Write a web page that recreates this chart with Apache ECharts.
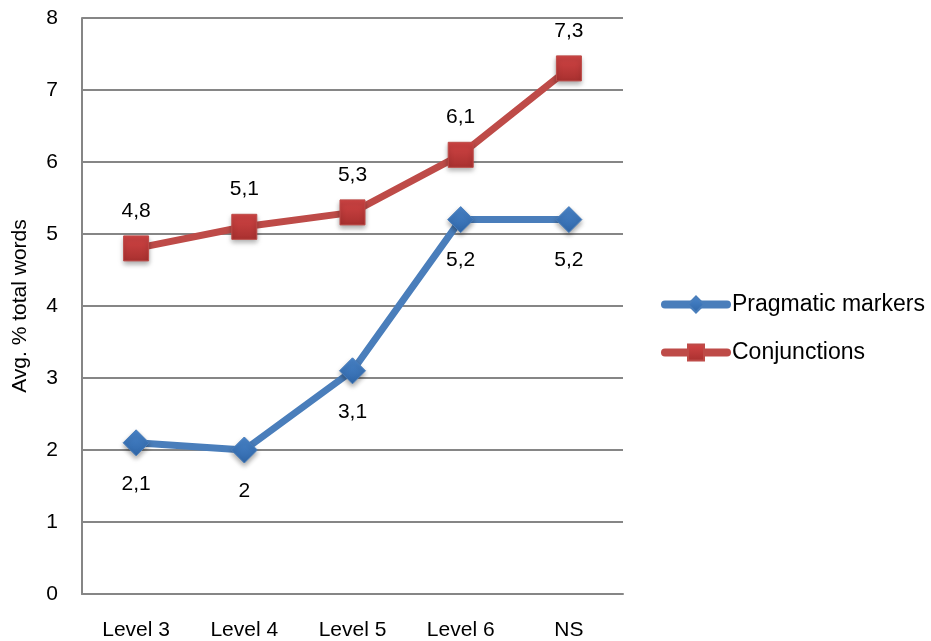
<!DOCTYPE html>
<html><head><meta charset="utf-8">
<script src="https://cdn.jsdelivr.net/npm/echarts@6/dist/echarts.min.js"></script>
<style>html,body{margin:0;padding:0;background:#fff}#c{width:931px;height:641px}</style>
</head><body><div id="c"></div>
<script>
var categories = ['Level 3', 'Level 4', 'Level 5', 'Level 6', 'NS'];
var pragmatic = [2.1, 2, 3.1, 5.2, 5.2];
var conjunctions = [4.8, 5.1, 5.3, 6.1, 7.3];
var yTicks = [0, 1, 2, 3, 4, 5, 6, 7, 8];
var FONT = '"Liberation Sans", sans-serif';
var fmt = function (p) { return String(p.value).replace('.', ','); };
var grad = function (a, b) {
  return new echarts.graphic.LinearGradient(0, 0, 0, 1, [{ offset: 0, color: a }, { offset: 1, color: b }]);
};
var chart = echarts.init(document.getElementById('c'));
chart.setOption({
  animation: false,
  textStyle: { fontFamily: FONT },
  grid: { left: 82, right: 308, top: 18, bottom: 47, containLabel: false, outerBoundsMode: 'none' },
  legend: {
    orient: 'vertical', left: 656, top: 288, itemWidth: 62, itemHeight: 20, itemGap: 25,
    lineStyle: { width: 8, cap: 'round' },
    textStyle: { fontFamily: FONT, fontSize: 23, color: '#000' },
    data: ['Pragmatic markers', 'Conjunctions']
  },
  xAxis: {
    type: 'category', data: categories, boundaryGap: true,
    axisLine: { lineStyle: { color: '#868686', width: 2 } },
    axisTick: { show: false },
    axisLabel: { fontFamily: FONT, fontSize: 21, color: '#000', margin: 26 }
  },
  yAxis: {
    type: 'value', min: yTicks[0], max: yTicks[yTicks.length - 1], interval: 1,
    name: 'Avg. % total words', nameLocation: 'middle', nameGap: 51,
    nameTextStyle: { fontFamily: FONT, fontSize: 21, color: '#000' },
    axisLine: { show: true, lineStyle: { color: '#868686', width: 2 } },
    axisTick: { show: false },
    splitLine: { lineStyle: { color: '#868686', width: 2 } },
    axisLabel: { fontFamily: FONT, fontSize: 21, color: '#000', margin: 24 }
  },
  series: [
    {
      name: 'Pragmatic markers', type: 'line', data: pragmatic,
      symbol: 'diamond', symbolSize: 26,
      lineStyle: { color: '#4A7EBB', width: 7 },
      itemStyle: { color: grad('#4A86CC', '#2F66A8'), borderColor: '#4A7EBB', borderWidth: 1,
        shadowBlur: 5, shadowColor: 'rgba(0,0,0,0.35)', shadowOffsetY: 3 },
      label: { show: true, position: 'bottom', distance: 17, formatter: fmt,
        fontFamily: FONT, fontSize: 21, color: '#000' }
    },
    {
      name: 'Conjunctions', type: 'line', data: conjunctions,
      symbol: 'rect', symbolSize: 25,
      lineStyle: { color: '#BE4B48', width: 7 },
      itemStyle: { color: grad('#D24545', '#A8302F'), borderColor: '#BE4B48', borderWidth: 1,
        shadowBlur: 5, shadowColor: 'rgba(0,0,0,0.35)', shadowOffsetY: 3 },
      label: { show: true, position: 'top', distance: 14, formatter: fmt,
        fontFamily: FONT, fontSize: 21, color: '#000' }
    }
  ]
});
</script></body></html>
